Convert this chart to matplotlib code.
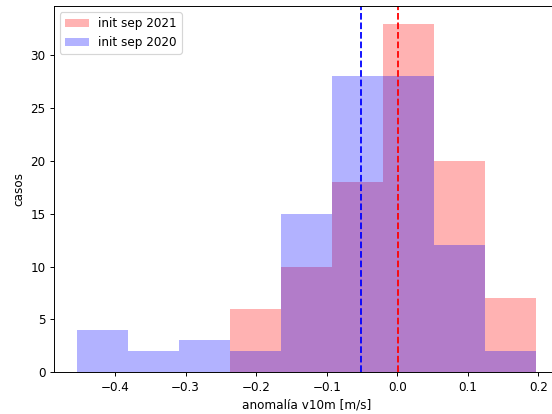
import numpy as np
import matplotlib.pyplot as plt

# histogram bin edges shared by both runs (m/s)
edges = [-0.454, -0.382, -0.309, -0.237, -0.165, -0.092, -0.020, 0.052, 0.125, 0.197]

# cases per bin
casos_2021 = [0, 0, 0, 6, 10, 18, 33, 20, 7]
casos_2020 = [4, 2, 3, 2, 15, 28, 28, 12, 2]

# ensemble means
media_2021 = 0.001
media_2020 = -0.051

edges = np.array(edges)
centros = (edges[:-1] + edges[1:]) / 2
m21 = np.array(casos_2021) > 0

fig = plt.figure(figsize=(6.4, 4.8), dpi=86.25)
ax = fig.add_axes([0.098, 0.101, 0.915, 0.884])

ax.hist(centros[m21], bins=edges[np.argmax(m21):], weights=np.array(casos_2021)[m21],
        color='r', alpha=0.3, label='init sep 2021')
ax.hist(centros, bins=edges, weights=casos_2020, color='b', alpha=0.3, label='init sep 2020')

ax.axvline(media_2020, color='b', linestyle='--')
ax.axvline(media_2021, color='r', linestyle='--')

ax.set_xlabel('anomalía v10m [m/s]')
ax.set_ylabel('casos')
ax.legend(loc='upper left')

fig.savefig('out.png', dpi=86.25)
